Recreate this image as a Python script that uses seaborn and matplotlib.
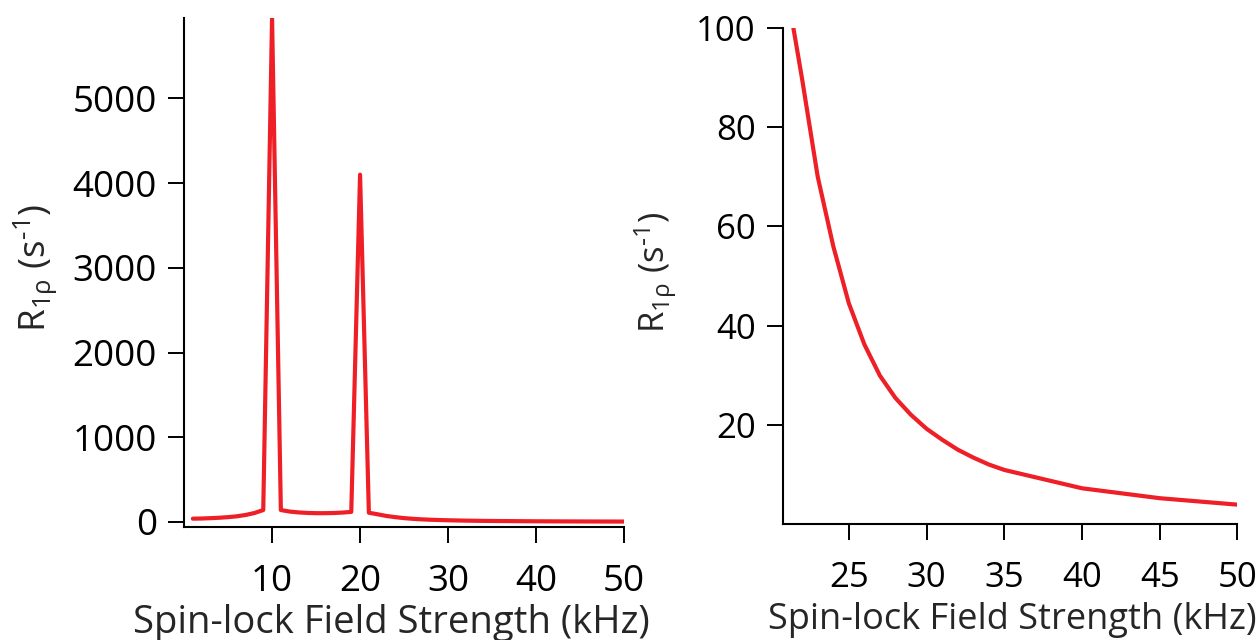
import matplotlib
matplotlib.use("Agg")
import matplotlib.pyplot as plt
import seaborn as sns
import pandas as pd

# Spin-lock field strength (kHz) and R1rho relaxation rate (s^-1)
field_khz = [1, 2, 3, 4, 5, 6, 7, 8, 9, 10, 11, 12, 13, 14, 15, 16, 17, 18, 19, 20,
             21, 22, 23, 24, 25, 26, 27, 28, 29, 30, 31, 32, 33, 34, 35, 40, 45, 50]
r1rho = [38, 40, 44, 49, 56, 66, 82, 105, 140, 5950, 140, 122, 112, 106, 103, 103, 105, 110, 118, 4100,
         108, 89.6, 70, 56, 44.5, 36.2, 29.9, 25.4, 22, 19.2, 17, 15, 13.4, 12, 10.9, 7.2, 5.2, 3.9]

left_xticks = [10, 20, 30, 40, 50]
left_yticks = [0, 1000, 2000, 3000, 4000, 5000]
right_xticks = [25, 30, 35, 40, 45, 50]
right_yticks = [20, 40, 60, 80, 100]

df = pd.DataFrame({"field": field_khz, "r1rho": r1rho})

sns.set_theme(style="ticks")
plt.rcParams["font.family"] = ["Open Sans", "DejaVu Sans"]
plt.rcParams["mathtext.fontset"] = "custom"
plt.rcParams["mathtext.rm"] = "Open Sans"
plt.rcParams["mathtext.it"] = "Open Sans:italic"
plt.rcParams["mathtext.fallback"] = "stixsans"

LINE = "#ee1f26"
ylabel = r"R$_{\mathrm{1ρ}}$ (s$^{\mathrm{‐1}}$)"
xlabel = "Spin-lock Field Strength (kHz)"

fig = plt.figure(figsize=(12.58, 6.4), dpi=100)
ax1 = fig.add_axes([0.1463, 0.1766, 0.3498, 0.7953])
ax2 = fig.add_axes([0.6221, 0.18125, 0.3616, 0.775])

for ax in (ax1, ax2):
    sns.lineplot(data=df, x="field", y="r1rho", ax=ax, color=LINE, linewidth=3.0)
    sns.despine(ax=ax)
    for s in ("left", "bottom"):
        ax.spines[s].set_linewidth(1.5)
        ax.spines[s].set_color("black")
    ax.tick_params(direction="out", length=11.5, width=1.4, colors="black")

# full range
ax1.set_xlim(0, 50)
ax1.set_ylim(-60, 5950)
ax1.set_xticks(left_xticks)
ax1.set_yticks(left_yticks)
ax1.tick_params(axis="both", labelsize=26.5)
ax1.tick_params(axis="x", pad=15)
ax1.tick_params(axis="y", pad=8)
ax1.set_xlabel(xlabel, fontsize=27.5)
ax1.set_ylabel(ylabel, fontsize=26.5)
ax1.xaxis.set_label_coords(0.472, -0.152)
ax1.yaxis.set_label_coords(-0.285, 0.509)

# high-field tail
ax2.set_xlim(20.74, 50)
ax2.set_ylim(0, 100)
ax2.set_xticks(right_xticks)
ax2.set_yticks(right_yticks)
ax2.tick_params(axis="both", labelsize=25)
ax2.tick_params(axis="x", pad=15)
ax2.tick_params(axis="y", pad=8)
ax2.set_xlabel(xlabel, fontsize=26)
ax2.set_ylabel(ylabel, fontsize=25)
ax2.xaxis.set_label_coords(0.505, -0.158)
ax2.yaxis.set_label_coords(-0.228, 0.508)

fig.savefig("out.png", dpi=100)
